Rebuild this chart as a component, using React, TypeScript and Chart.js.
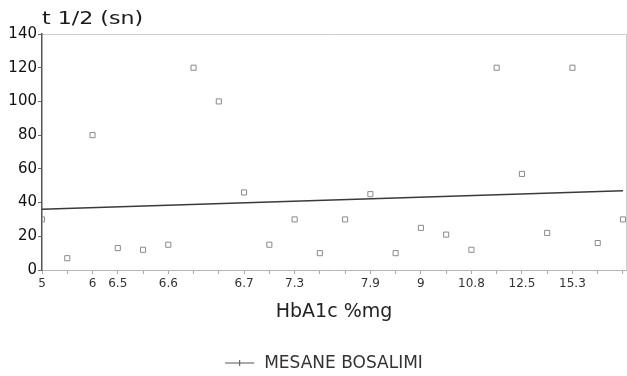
import { useEffect, useRef } from 'react';
import { Chart, registerables } from 'chart.js';

Chart.register(...registerables);

// HbA1c category labels (blank = unlabeled tick)
const categoryLabels = ['5', '', '6', '6.5', '', '6.6', '', '', '6.7', '', '7.3', '', '', '7.9', '', '9', '', '10.8', '', '12.5', '', '15.3', '', ''];
// t 1/2 (sn) values per category
const halfLifeValues = [30, 7, 80, 13, 12, 15, 120, 100, 46, 15, 30, 10, 30, 45, 10, 25, 21, 12, 120, 57, 22, 120, 16, 30];
// trend line end points (category index, value)
const trendX = [0, 23];
const trendY = [36, 47];
const yTickValues = [0, 20, 40, 60, 80, 100, 120, 140];
const yTitle = 't 1/2 (sn)';
const xTitle = 'HbA1c %mg';
const legendLabel = 'MESANE BOSALIMI';

const FONT = '"DejaVu Sans", "Liberation Sans", sans-serif';

export default function App() {
  const ref = useRef<HTMLCanvasElement | null>(null);

  useEffect(() => {
    document.body.style.margin = '0';
    const canvas = ref.current;
    if (!canvas) return;

    const noPad = (s: any) => {
      s.paddingLeft = 0;
      s.paddingRight = 0;
    };

    const textPlugin = {
      id: 'texts',
      afterDraw(chart: any) {
        const ctx = chart.ctx as CanvasRenderingContext2D;
        const area = chart.chartArea;
        ctx.save();
        // y axis title
        ctx.fillStyle = '#1a1a1a';
        ctx.font = `17px ${FONT}`;
        ctx.textBaseline = 'middle';
        ctx.textAlign = 'left';
        ctx.translate(area.left, 20);
        ctx.scale(1.3, 1);
        ctx.fillText(yTitle, 0, 0);
        ctx.restore();

        // legend
        ctx.save();
        const cx = (area.left + area.right) / 2;
        ctx.font = `17px ${FONT}`;
        const tw = ctx.measureText(legendLabel).width;
        const lineW = 29;
        const gap = 10;
        const total = lineW + gap + tw;
        const x0 = cx - total / 2 - 10;
        const ly = 363;
        ctx.strokeStyle = '#555';
        ctx.lineWidth = 1;
        ctx.beginPath();
        ctx.moveTo(x0, ly);
        ctx.lineTo(x0 + lineW, ly);
        ctx.moveTo(x0 + lineW / 2, ly - 3);
        ctx.lineTo(x0 + lineW / 2, ly + 3);
        ctx.stroke();
        ctx.fillStyle = '#333';
        ctx.textBaseline = 'middle';
        ctx.textAlign = 'left';
        ctx.fillText(legendLabel, x0 + lineW + gap, ly + 1);
        ctx.restore();
      },
    };

    const chart = new Chart(canvas, {
      type: 'scatter',
      data: {
        datasets: [
          {
            label: legendLabel,
            data: halfLifeValues.map((y, i) => ({ x: i, y })),
            showLine: false,
            pointStyle: 'rect',
            pointRadius: 3.6,
            pointBorderWidth: 1,
            pointBorderColor: '#8a8a8a',
            pointBackgroundColor: 'rgba(255,255,255,0)',
          },
          {
            label: 'trend',
            data: trendX.map((x, i) => ({ x, y: trendY[i] })),
            showLine: true,
            borderColor: '#3a3a3a',
            borderWidth: 1.5,
            pointRadius: 0,
          },
        ],
      },
      options: {
        responsive: false,
        animation: false,
        layout: { autoPadding: false, padding: { top: 34, left: 0, right: 0, bottom: 0 } },
        plugins: {
          legend: { display: false },
          tooltip: { enabled: false },
          title: { display: false },
        },
        scales: {
          x: {
            type: 'linear',
            position: 'bottom',
            min: 0,
            max: 23.12,
            afterBuildTicks: (s: any) => {
              s.ticks = categoryLabels.map((_, i) => ({ value: i }));
            },
            afterFit: (s: any) => {
              s.height = 106;
              noPad(s);
            },
            ticks: {
              autoSkip: false,
              maxRotation: 0,
              includeBounds: false,
              padding: 3,
              color: '#333',
              font: { family: FONT, size: 12 },
              callback: (v: any) => categoryLabels[Math.round(Number(v))] ?? '',
            },
            grid: {
              drawOnChartArea: false,
              drawTicks: true,
              tickLength: 4,
              tickColor: '#aaa',
              color: '#aaa',
            },
            border: { display: true, color: '#b5b5b5', width: 1, dash: [3, 2] },
            title: {
              display: true,
              text: xTitle,
              color: '#222',
              font: { family: FONT, size: 19 },
              padding: { top: 0, bottom: 53 },
            },
          },
          x2: {
            type: 'linear',
            position: 'top',
            display: true,
            afterFit: (s: any) => {
              s.height = 0;
              noPad(s);
            },
            grid: { display: false },
            ticks: { display: false },
            border: { display: true, color: '#d0d0d0', width: 1, dash: [2, 2] },
          },
          y: {
            type: 'linear',
            position: 'left',
            min: 0,
            max: 140,
            afterBuildTicks: (s: any) => {
              s.ticks = yTickValues.map((v) => ({ value: v }));
            },
            afterFit: (s: any) => {
              s.width = 42;
            },
            ticks: {
              padding: 1,
              color: '#111',
              font: { family: FONT, size: 15 },
            },
            grid: {
              drawOnChartArea: false,
              drawTicks: true,
              tickLength: 4,
              tickColor: '#666',
              color: '#666',
            },
            border: { display: true, color: '#555', width: 1.5 },
          },
          y2: {
            type: 'linear',
            position: 'right',
            display: true,
            afterFit: (s: any) => {
              s.width = 1;
            },
            grid: { display: false },
            ticks: { display: false },
            border: { display: true, color: '#d0d0d0', width: 1, dash: [2, 2] },
          },
        },
      },
      plugins: [textPlugin],
    } as any);

    return () => chart.destroy();
  }, []);

  return <canvas ref={ref} width={627} height={376} style={{ display: 'block' }} />;
}
